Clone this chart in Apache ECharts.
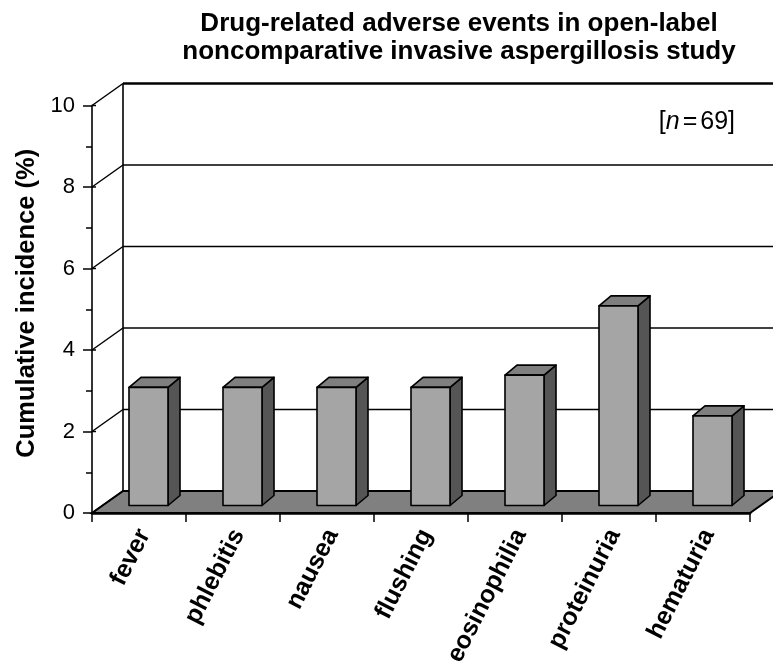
<!DOCTYPE html>
<html>
<head>
<meta charset="utf-8">
<title>Drug-related adverse events</title>
<script src="https://cdn.jsdelivr.net/npm/echarts@6/dist/echarts.min.js"></script>
<style>
  html, body { margin: 0; padding: 0; background: #ffffff; }
  #chart { width: 773px; height: 670px; }
</style>
</head>
<body>
<div id="chart"></div>
<script>
// Adverse events and their cumulative incidence (%)
var categories = ['fever', 'phlebitis', 'nausea', 'flushing', 'eosinophilia', 'proteinuria', 'hematuria'];
var incidence = [2.9, 2.9, 2.9, 2.9, 3.2, 4.9, 2.2];
var yTicks = [0, 2, 4, 6, 8, 10];

var FONT = '"Liberation Sans", Arial, Helvetica, sans-serif';

// Oblique depth of the back wall / floor, and of each column
var WALL_DX = 31, WALL_DY = -22;
var BAR_SHIFT_X = 9.5, BAR_SHIFT_Y = -7.5;   // columns sit part-way back on the floor
var BAR_DX = 12, BAR_DY = -10;               // column depth
var BAR_WIDTH_RATIO = 0.415;

var chart = echarts.init(document.getElementById('chart'), null, { renderer: 'canvas' });

// Floor, back wall grid lines and depth diagonals
function renderFrame(params, api) {
  var cs = params.coordSys;
  var x0 = cs.x, x1 = cs.x + cs.width;
  var yBase = api.coord([0, 0])[1];
  var yTop = api.coord([0, yTicks[yTicks.length - 1]])[1];
  var children = [];

  // floor
  children.push({
    type: 'polygon',
    shape: { points: [[x0, yBase], [x1, yBase], [x1 + WALL_DX, yBase + WALL_DY], [x0 + WALL_DX, yBase + WALL_DY]] },
    style: { fill: '#808080', stroke: '#000', lineWidth: 2 }
  });
  // back wall left edge
  children.push({
    type: 'line',
    shape: { x1: x0 + WALL_DX, y1: yBase + WALL_DY, x2: x0 + WALL_DX, y2: yTop + WALL_DY },
    style: { stroke: '#000', lineWidth: 1.6 }
  });
  yTicks.forEach(function (v) {
    var y = api.coord([0, v])[1];
    // back wall grid line
    if (v > 0) {
      children.push({
        type: 'line',
        shape: { x1: x0 + WALL_DX, y1: y + WALL_DY, x2: x1 + WALL_DX + 40, y2: y + WALL_DY },
        style: { stroke: '#000', lineWidth: v === yTicks[yTicks.length - 1] ? 2.4 : 1.5 }
      });
    }
    // depth diagonal from the front axis to the back wall
    children.push({
      type: 'line',
      shape: { x1: x0, y1: y, x2: x0 + WALL_DX, y2: y + WALL_DY },
      style: { stroke: '#000', lineWidth: 1.5 }
    });
    // inner half of the crossing tick
    children.push({
      type: 'line',
      shape: { x1: x0, y1: y, x2: x0 + 4, y2: y },
      style: { stroke: '#000', lineWidth: 1.5 }
    });
  });
  return { type: 'group', children: children };
}

// 3-D column: front face, top face, side face
function renderColumn(params, api) {
  var idx = api.value(0);
  var val = api.value(1);
  var top = api.coord([idx, val]);
  var base = api.coord([idx, 0]);
  var w = api.size([1, 0])[0] * BAR_WIDTH_RATIO;
  var cx = top[0] + BAR_SHIFT_X;
  var L = cx - w / 2, R = cx + w / 2;
  var yT = top[1] + BAR_SHIFT_Y, yB = base[1] + BAR_SHIFT_Y;
  var stroke = { stroke: '#000', lineWidth: 1.6, lineJoin: 'round' };
  return {
    type: 'group',
    children: [
      {
        type: 'polygon',
        shape: { points: [[R, yT], [R + BAR_DX, yT + BAR_DY], [R + BAR_DX, yB + BAR_DY], [R, yB]] },
        style: Object.assign({ fill: '#555555' }, stroke)
      },
      {
        type: 'polygon',
        shape: { points: [[L, yT], [R, yT], [R + BAR_DX, yT + BAR_DY], [L + BAR_DX, yT + BAR_DY]] },
        style: Object.assign({ fill: '#7f7f7f' }, stroke)
      },
      {
        type: 'rect',
        shape: { x: L, y: yT, width: w, height: yB - yT },
        style: Object.assign({ fill: '#a5a5a5' }, stroke)
      }
    ]
  };
}

var option = {
  backgroundColor: '#ffffff',
  animation: false,
  title: {
    text: 'Drug-related adverse events in open-label\nnoncomparative invasive aspergillosis study',
    left: 454,
    top: 5,
    textAlign: 'center',
    textStyle: { fontFamily: FONT, fontSize: 26, fontWeight: 'bold', color: '#000', lineHeight: 28 }
  },
  graphic: [{
    type: 'text',
    right: 38,
    top: 110,
    style: {
      text: '[{i|n}{eq|=}69]',
      font: '25px ' + FONT,
      fill: '#000',
      rich: {
        i: { fontStyle: 'italic', fontSize: 25, fontFamily: FONT },
        eq: { fontSize: 25, fontFamily: FONT, padding: [0, 3] }
      }
    }
  }],
  grid: { left: 92, right: 23, top: 105.5, bottom: 157, containLabel: false },
  xAxis: {
    type: 'category',
    data: categories,
    z: 10,
    boundaryGap: true,
    axisLine: { show: true, lineStyle: { color: '#000', width: 2.5 } },
    axisTick: { show: true, length: 9, alignWithLabel: false, interval: 0, lineStyle: { color: '#000', width: 1.5 } },
    axisLabel: {
      interval: 0, rotate: 63, margin: 15, verticalAlign: 'top', lineHeight: 12,
      fontFamily: FONT, fontSize: 25, fontWeight: 'bold', color: '#000'
    },
    splitLine: { show: false }
  },
  yAxis: {
    type: 'value',
    min: 0, max: 10, interval: 2,
    z: 10,
    name: 'Cumulative incidence (%)',
    nameLocation: 'middle',
    nameGap: 38,
    nameTextStyle: { fontFamily: FONT, fontSize: 25.5, fontWeight: 'bold', color: '#000', padding: [0, 0, 0, 12] },
    axisLine: { show: true, lineStyle: { color: '#000', width: 1.6 } },
    axisTick: { show: true, length: 9, lineStyle: { color: '#000', width: 1.5 } },
    minorTick: { show: true, splitNumber: 2, length: 6, lineStyle: { color: '#000', width: 1.5 } },
    axisLabel: { margin: 17, fontFamily: FONT, fontSize: 22, color: '#000' },
    splitLine: { show: false }
  },
  series: [
    {
      type: 'custom',
      z: 1,
      silent: true,
      renderItem: renderFrame,
      data: [[0, 0]],
      clip: false
    },
    {
      type: 'custom',
      z: 3,
      renderItem: renderColumn,
      encode: { x: 0, y: 1 },
      data: incidence.map(function (v, i) { return [i, v]; }),
      clip: false
    }
  ]
};

chart.setOption(option);
</script>
</body>
</html>
